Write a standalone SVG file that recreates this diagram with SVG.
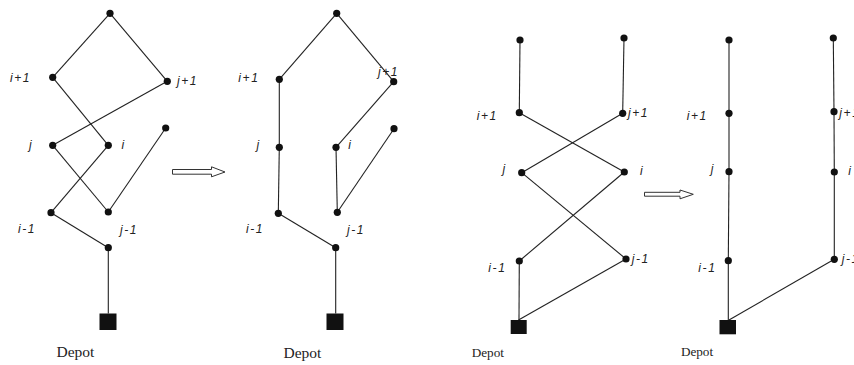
<svg xmlns="http://www.w3.org/2000/svg" width="854" height="365" viewBox="0 0 854 365">
<style>
.e{stroke:#222;stroke-width:1.1;fill:none}
.n{fill:#111}
.d{fill:#111}
.l{font-family:"Liberation Sans",Arial,sans-serif;font-style:italic;font-size:12px;letter-spacing:1.6px;fill:#222}
.t1{font-family:"Liberation Serif","Times New Roman",serif;font-size:15.5px;fill:#222}
.t2{font-family:"Liberation Serif","Times New Roman",serif;font-size:13.2px;fill:#222}
.a{fill:#fff;stroke:#333;stroke-width:1}
</style>
<g id="connectors">
<!-- panel 1 -->
<line class="e" x1="110" y1="13.3" x2="52.7" y2="77.3"/>
<line class="e" x1="110" y1="13.3" x2="167.3" y2="81.3"/>
<line class="e" x1="52.7" y1="77.3" x2="108.3" y2="145.3"/>
<line class="e" x1="167.3" y1="81.3" x2="52.7" y2="145.3"/>
<line class="e" x1="52.7" y1="145.3" x2="108.3" y2="212"/>
<line class="e" x1="108.3" y1="145.3" x2="51" y2="212.7"/>
<line class="e" x1="165.7" y1="128" x2="108.3" y2="212"/>
<line class="e" x1="51" y1="212.7" x2="108.3" y2="247.7"/>
<line class="e" x1="108.3" y1="247.7" x2="108.3" y2="313.5"/>
<!-- panel 2 -->
<line class="e" x1="336.7" y1="13.3" x2="279.3" y2="79.3"/>
<line class="e" x1="336.7" y1="13.3" x2="393.7" y2="81.7"/>
<line class="e" x1="279.3" y1="79.3" x2="279.3" y2="147.3"/>
<line class="e" x1="279.3" y1="147.3" x2="278.3" y2="213.3"/>
<line class="e" x1="393.7" y1="81.7" x2="336" y2="147.3"/>
<line class="e" x1="336" y1="147.3" x2="337.3" y2="212.3"/>
<line class="e" x1="394" y1="128.7" x2="337.3" y2="212.3"/>
<line class="e" x1="278.3" y1="213.3" x2="335.7" y2="247.7"/>
<line class="e" x1="335.7" y1="247.7" x2="335.7" y2="313.5"/>
<!-- panel 3 -->
<line class="e" x1="520" y1="40" x2="519.3" y2="112.7"/>
<line class="e" x1="624" y1="38" x2="622.7" y2="113.3"/>
<line class="e" x1="519.3" y1="112.7" x2="624.3" y2="172"/>
<line class="e" x1="622.7" y1="113.3" x2="521.7" y2="172.7"/>
<line class="e" x1="521.7" y1="172.7" x2="626" y2="259"/>
<line class="e" x1="624.3" y1="172" x2="519.3" y2="261"/>
<line class="e" x1="519.3" y1="261" x2="519" y2="320"/>
<line class="e" x1="626" y1="259" x2="518.5" y2="320"/>
<!-- panel 4 -->
<line class="e" x1="729" y1="40" x2="729" y2="113.3"/>
<line class="e" x1="729" y1="113.3" x2="729" y2="171.7"/>
<line class="e" x1="729" y1="171.7" x2="728.3" y2="260.7"/>
<line class="e" x1="728.3" y1="260.7" x2="728.3" y2="320"/>
<line class="e" x1="833.3" y1="38" x2="834" y2="111.7"/>
<line class="e" x1="834" y1="111.7" x2="834.3" y2="172"/>
<line class="e" x1="834.3" y1="172" x2="834.3" y2="259.3"/>
<line class="e" x1="834.3" y1="259.3" x2="729" y2="320"/>
</g>
<g id="arrows">
<polygon class="a" points="172.5,169.5 211.5,169.5 211.5,166.8 225,172 211.5,176.8 211.5,174.2 172.5,174.2"/>
<polygon class="a" points="644.5,192.3 680,192.3 680,190 693.3,194.3 680,198.8 680,196.2 644.5,196.2"/>
</g>
<!-- panel 1 nodes -->
<g id="p1-top"><circle class="n" cx="110" cy="13.3" r="3.6"/></g>
<g id="p1-i1"><circle class="n" cx="52.7" cy="77.3" r="3.6"/><text class="l" x="10" y="81.5">i+1</text></g>
<g id="p1-j1"><circle class="n" cx="167.3" cy="81.3" r="3.6"/><text class="l" x="177" y="84.5">j+1</text></g>
<g id="p1-j"><circle class="n" cx="52.7" cy="145.3" r="3.6"/><text class="l" x="29" y="148.5">j</text></g>
<g id="p1-i"><circle class="n" cx="108.3" cy="145.3" r="3.6"/><text class="l" x="121.5" y="148.8">i</text></g>
<g id="p1-lone"><circle class="n" cx="165.7" cy="128" r="3.6"/></g>
<g id="p1-im1"><circle class="n" cx="51" cy="212.7" r="3.6"/><text class="l" x="18" y="233">i-1</text></g>
<g id="p1-jm1"><circle class="n" cx="108.3" cy="212" r="3.6"/><text class="l" x="120" y="233.5">j-1</text></g>
<g id="p1-last"><circle class="n" cx="108.3" cy="247.7" r="3.6"/></g>
<g id="p1-depot"><rect class="d" x="99.5" y="313.5" width="17" height="16.5"/><text class="t1" x="75.5" y="356.5" text-anchor="middle">Depot</text></g>
<!-- panel 2 nodes -->
<g id="p2-top"><circle class="n" cx="336.7" cy="13.3" r="3.6"/></g>
<g id="p2-i1"><circle class="n" cx="279.3" cy="79.3" r="3.6"/><text class="l" x="238.3" y="81.5">i+1</text></g>
<g id="p2-j1"><circle class="n" cx="393.7" cy="81.7" r="3.6"/><text class="l" x="378" y="76">j+1</text></g>
<g id="p2-j"><circle class="n" cx="279.3" cy="147.3" r="3.6"/><text class="l" x="256.5" y="149">j</text></g>
<g id="p2-i"><circle class="n" cx="336" cy="147.3" r="3.6"/><text class="l" x="348.3" y="148.7">i</text></g>
<g id="p2-lone"><circle class="n" cx="394" cy="128.7" r="3.6"/></g>
<g id="p2-im1"><circle class="n" cx="278.3" cy="213.3" r="3.6"/><text class="l" x="246" y="233">i-1</text></g>
<g id="p2-jm1"><circle class="n" cx="337.3" cy="212.3" r="3.6"/><text class="l" x="347" y="234">j-1</text></g>
<g id="p2-last"><circle class="n" cx="335.7" cy="247.7" r="3.6"/></g>
<g id="p2-depot"><rect class="d" x="326.5" y="313.5" width="17" height="16.5"/><text class="t1" x="302.5" y="357.5" text-anchor="middle">Depot</text></g>
<!-- panel 3 nodes -->
<g id="p3-tl"><circle class="n" cx="520" cy="40" r="3.6"/></g>
<g id="p3-tr"><circle class="n" cx="624" cy="38" r="3.6"/></g>
<g id="p3-i1"><circle class="n" cx="519.3" cy="112.7" r="3.6"/><text class="l" x="476.7" y="120">i+1</text></g>
<g id="p3-j1"><circle class="n" cx="622.7" cy="113.3" r="3.6"/><text class="l" x="628" y="116.5">j+1</text></g>
<g id="p3-j"><circle class="n" cx="521.7" cy="172.7" r="3.6"/><text class="l" x="502.5" y="172.5">j</text></g>
<g id="p3-i"><circle class="n" cx="624.3" cy="172" r="3.6"/><text class="l" x="640" y="175">i</text></g>
<g id="p3-im1"><circle class="n" cx="519.3" cy="261" r="3.6"/><text class="l" x="488.3" y="271.5">i-1</text></g>
<g id="p3-jm1"><circle class="n" cx="626" cy="259" r="3.6"/><text class="l" x="631.7" y="263">j-1</text></g>
<g id="p3-depot"><rect class="d" x="510.7" y="320" width="16" height="14"/><text class="t2" x="487.8" y="356.5" text-anchor="middle">Depot</text></g>
<!-- panel 4 nodes -->
<g id="p4-tl"><circle class="n" cx="729" cy="40" r="3.6"/></g>
<g id="p4-tr"><circle class="n" cx="833.3" cy="38" r="3.6"/></g>
<g id="p4-i1"><circle class="n" cx="729" cy="113.3" r="3.6"/><text class="l" x="686.7" y="120">i+1</text></g>
<g id="p4-j1"><circle class="n" cx="834" cy="111.7" r="3.6"/><text class="l" x="839.3" y="116.5">j+1</text></g>
<g id="p4-j"><circle class="n" cx="729" cy="171.7" r="3.6"/><text class="l" x="710.7" y="172.5">j</text></g>
<g id="p4-i"><circle class="n" cx="834.3" cy="172" r="3.6"/><text class="l" x="848.3" y="175">i</text></g>
<g id="p4-im1"><circle class="n" cx="728.3" cy="260.7" r="3.6"/><text class="l" x="698.3" y="271.5">i-1</text></g>
<g id="p4-jm1"><circle class="n" cx="834.3" cy="259.3" r="3.6"/><text class="l" x="841.7" y="263">j-1</text></g>
<g id="p4-depot"><rect class="d" x="719.5" y="320" width="16.5" height="14.3"/><text class="t2" x="697" y="355.5" text-anchor="middle">Depot</text></g>
</svg>
